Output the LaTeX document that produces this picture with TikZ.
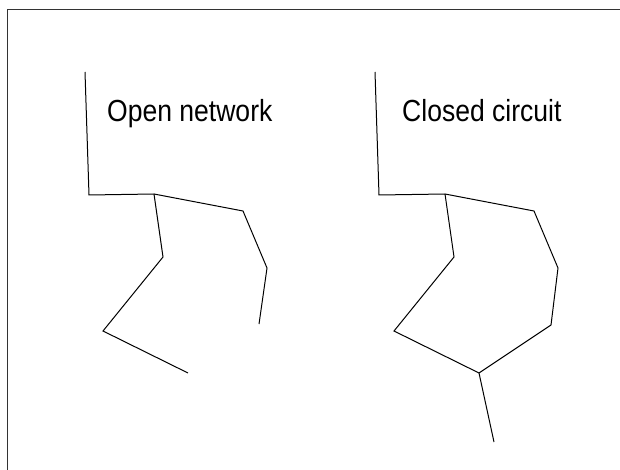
\documentclass[tikz,border=0pt]{standalone}
\usepackage{fontspec}
\setmainfont{Liberation Sans}[FakeStretch=0.87]
\usepackage{tikz}

\begin{document}
\begin{tikzpicture}[x=1pt,y=-1pt,line join=miter]
\useasboundingbox (0,0) rectangle (620,470);
\tikzset{pipe/.style={line width=1pt},
  caption/.style={anchor=base west,inner sep=0pt,font=\fontsize{30.5}{32}\selectfont}}
\draw[line width=1.6pt,black!80] (7.5,470) -- (7.5,9.5) -- (620,9.5);
% open network
\coordinate (oa) at (85,72);
\coordinate (ob) at (89,195);
\coordinate (oj) at (154,194);
\coordinate (or1) at (243,211);
\coordinate (or2) at (267,268);
\coordinate (or3) at (259,324);
\coordinate (od1) at (163,257);
\coordinate (od2) at (103,331);
\coordinate (od3) at (188,373);
\draw[pipe] (oa) -- (ob) -- (oj) -- (or1) -- (or2) -- (or3);
\draw[pipe] (oj) -- (od1) -- (od2) -- (od3);
\node[caption] (otext) at (107,122) {Open network};
% closed circuit
\coordinate (ca) at (375,72);
\coordinate (cb) at (379,195);
\coordinate (cj) at (445,194);
\coordinate (cr1) at (534,211);
\coordinate (cr2) at (558,268);
\coordinate (cr3) at (551,325);
\coordinate (ck) at (479,373);
\coordinate (cd1) at (454,257);
\coordinate (cd2) at (394,331);
\coordinate (ct) at (494,442);
\draw[pipe] (ca) -- (cb) -- (cj) -- (cr1) -- (cr2) -- (cr3) -- (ck) -- (cd2) -- (cd1) -- (cj);
\draw[pipe] (ck) -- (ct);
\node[caption] (ctext) at (402,122) {Closed circuit};
\end{tikzpicture}
\end{document}
